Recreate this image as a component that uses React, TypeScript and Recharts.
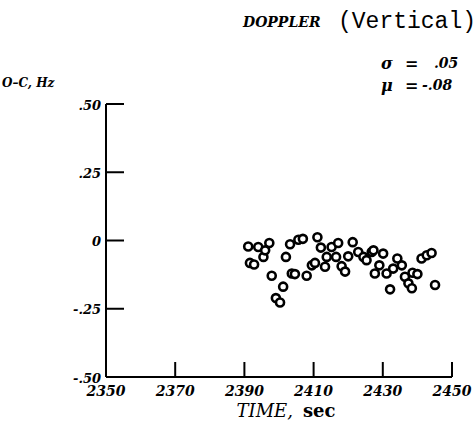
import { ScatterChart, Scatter, XAxis, YAxis } from 'recharts'

// Doppler O-C residuals (vertical)
const timeSec = [
  2391.1, 2394.0, 2397.2, 2395.5, 2396.0,
  2391.6, 2392.8, 2397.9, 2401.2, 2399.1,
  2400.3, 2403.2, 2402.0, 2405.6, 2406.9,
  2411.1, 2412.1, 2415.2, 2417.1, 2413.8,
  2416.5, 2403.7, 2404.6, 2408.0, 2409.5,
  2410.4, 2413.3, 2418.1, 2419.1, 2420.0,
  2421.3, 2422.9, 2424.4, 2425.3, 2426.8,
  2427.3, 2430.1, 2429.0, 2427.7, 2431.1,
  2433.0, 2434.2, 2435.5, 2436.4, 2438.6,
  2440.0, 2437.4, 2438.4, 2432.1, 2441.2,
  2442.7, 2444.1, 2445.1
]
const ocHz = [
  -0.022, -0.024, -0.009, -0.060, -0.036,
  -0.082, -0.088, -0.129, -0.169, -0.211,
  -0.227, -0.014, -0.060, 0.003, 0.006,
  0.012, -0.026, -0.024, -0.009, -0.060,
  -0.060, -0.121, -0.123, -0.129, -0.091,
  -0.082, -0.096, -0.094, -0.114, -0.058,
  -0.006, -0.042, -0.060, -0.072, -0.042,
  -0.036, -0.048, -0.091, -0.121, -0.121,
  -0.103, -0.066, -0.091, -0.133, -0.118,
  -0.123, -0.157, -0.175, -0.179, -0.066,
  -0.054, -0.046, -0.163
]
const xTicks = [2350, 2370, 2390, 2410, 2430, 2450]
const yTicks = [-0.5, -0.25, 0, 0.25, 0.5]
const yTickLabels = ['-.50', '-.25', '0', '.25', '.50']

const data = timeSec.map((t, i) => ({ t, v: ocHz[i] }))

const labelFont = '"DejaVu Serif", serif'

const XTick = ({ x, y, payload, index }: any) => (
  <g>
    {index > 0 && <line x1={x} y1={y} x2={x} y2={y - 15} stroke="#000" strokeWidth={2} />}
    <text
      x={x}
      y={y + 14}
      textAnchor="middle"
      dominantBaseline="central"
      fontFamily={labelFont}
      fontWeight="bold"
      fontStyle="italic"
      fontSize={14}
      fill="#000"
    >
      {payload.value}
    </text>
  </g>
)

const YTick = ({ x, y, payload }: any) => {
  const i = yTicks.indexOf(payload.value)
  return (
    <g>
      <line x1={x} y1={y} x2={x + 18} y2={y} stroke="#000" strokeWidth={2} />
      <text
        x={x - 5}
        y={y + 1}
        textAnchor="end"
        dominantBaseline="central"
        fontFamily={labelFont}
        fontWeight="bold"
        fontStyle="italic"
        fontSize={13}
        fill="#000"
      >
        {yTickLabels[i]}
      </text>
    </g>
  )
}

const Ring = ({ cx, cy }: any) => (
  <circle cx={cx} cy={cy} r={4} fill="#fff" stroke="#000" strokeWidth={2.6} />
)

const txt = {
  fontFamily: labelFont,
  fontWeight: 'bold' as const,
  fontStyle: 'italic' as const,
  fill: '#000'
}

export default function App() {
  return (
    <div style={{ position: 'absolute', left: 0, top: 0, width: 476, height: 423, background: '#fff' }}>
      <ScatterChart
        width={476}
        height={423}
        margin={{ top: 104, right: 24, bottom: 16, left: 46 }}
      >
        <XAxis
          type="number"
          dataKey="t"
          domain={[2350, 2450]}
          ticks={xTicks}
          height={30}
          tickSize={0}
          tickMargin={0}
          tickLine={false}
          axisLine={{ stroke: '#000', strokeWidth: 2 }}
          tick={<XTick />}
          interval={0}
        />
        <YAxis
          type="number"
          dataKey="v"
          domain={[-0.5, 0.5]}
          ticks={yTicks}
          width={60}
          tickSize={0}
          tickMargin={0}
          tickLine={false}
          axisLine={{ stroke: '#000', strokeWidth: 2 }}
          tick={<YTick />}
          interval={0}
        />
        <Scatter data={data} shape={<Ring />} isAnimationActive={false} />
      </ScatterChart>

      <svg
        width={476}
        height={423}
        style={{ position: 'absolute', left: 0, top: 0, pointerEvents: 'none' }}
      >
        <text x={243} y={22} dominantBaseline="central" fontSize={14} {...txt}>DOPPLER</text>
        <text
          x={338}
          y={22}
          dominantBaseline="central"
          fontSize={23}
          fontFamily='"Liberation Mono", monospace'
          fill="#000"
        >
          (Vertical)
        </text>

        <text x={381} y={63} dominantBaseline="central" fontSize={16} {...txt}>σ</text>
        <text x={405} y={63} dominantBaseline="central" fontSize={16} {...txt}>=</text>
        <text x={434} y={63} dominantBaseline="central" fontSize={14} {...txt}>.05</text>
        <text x={381} y={85} dominantBaseline="central" fontSize={16} {...txt}>μ</text>
        <text x={405} y={85} dominantBaseline="central" fontSize={16} {...txt}>=</text>
        <text x={422} y={85} dominantBaseline="central" fontSize={14} {...txt}>-.08</text>

        <text x={2} y={83} dominantBaseline="central" fontSize={12} {...txt}>O–C, Hz</text>

        <text x={286} y={410} textAnchor="middle" dominantBaseline="central" fontSize={18} fontFamily={labelFont} fill="#000">
          <tspan fontStyle="italic">TIME,</tspan>
          <tspan fontWeight="bold" dx={10}>sec</tspan>
        </text>
      </svg>
    </div>
  )
}
